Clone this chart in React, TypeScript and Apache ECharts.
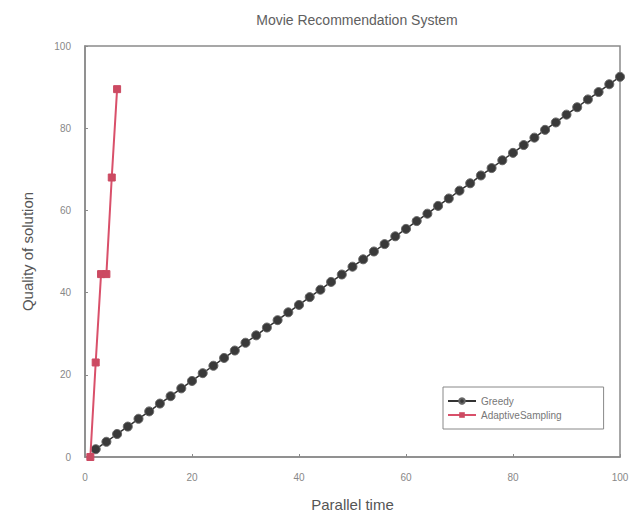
import React, { useEffect, useRef } from "react";
import * as echarts from "echarts";

const chartTitle = "Movie Recommendation System";
const xAxisName = "Parallel time";
const yAxisName = "Quality of solution";
const seriesNames = ["Greedy", "AdaptiveSampling"];

const greedyX = [2, 4, 6, 8, 10, 12, 14, 16, 18, 20, 22, 24, 26, 28, 30, 32, 34, 36, 38, 40, 42, 44, 46, 48, 50, 52, 54, 56, 58, 60, 62, 64, 66, 68, 70, 72, 74, 76, 78, 80, 82, 84, 86, 88, 90, 92, 94, 96, 98, 100];
const greedyY = [1.9, 3.7, 5.6, 7.4, 9.3, 11.1, 13.0, 14.8, 16.7, 18.5, 20.4, 22.2, 24.1, 25.9, 27.8, 29.6, 31.5, 33.3, 35.2, 37.0, 38.9, 40.7, 42.6, 44.4, 46.3, 48.1, 50.0, 51.8, 53.7, 55.5, 57.4, 59.2, 61.1, 62.9, 64.8, 66.6, 68.5, 70.3, 72.2, 74.0, 75.9, 77.7, 79.6, 81.4, 83.3, 85.1, 87.0, 88.8, 90.7, 92.5];

const adaptiveX = [1, 2, 3, 4, 5, 6];
const adaptiveY = [0, 23, 44.5, 44.5, 68, 89.5];

export default function App() {
  const ref = useRef<HTMLDivElement>(null);
  useEffect(() => {
    if (!ref.current) return;
    const chart = echarts.init(ref.current, null, { renderer: "svg" });
    const font = "Liberation Sans, Arial, sans-serif";
    chart.setOption({
      animation: false,
      backgroundColor: "#ffffff",
      textStyle: { fontFamily: font },
      title: {
        text: chartTitle,
        left: 352,
        textAlign: "center",
        top: 8,
        textStyle: { fontSize: 14, fontWeight: "normal", color: "#606060", fontFamily: font },
      },
      grid: {
        left: 85,
        right: 22,
        top: 46,
        bottom: 66,
        show: true,
        borderColor: "#8a8a8a",
        borderWidth: 1.5,
        backgroundColor: "transparent",
      },
      legend: {
        orient: "vertical",
        left: 443,
        top: 387,
        width: 162,
        backgroundColor: "#fff",
        borderColor: "#888",
        borderWidth: 1,
        borderRadius: 0,
        padding: [9, 42, 9, 4],
        itemGap: 4,
        itemWidth: 28,
        itemHeight: 7,
        textStyle: { fontSize: 10, color: "#777", fontFamily: font },
        data: seriesNames,
      },
      xAxis: {
        type: "value",
        min: 0,
        max: 100,
        interval: 20,
        name: xAxisName,
        nameLocation: "middle",
        nameGap: 40,
        nameTextStyle: { fontSize: 15, color: "#555", fontFamily: font },
        axisLine: { show: true, lineStyle: { color: "#8a8a8a", width: 1.5 } },
        axisTick: { show: true, inside: true, length: 3, lineStyle: { color: "#8a8a8a" } },
        axisLabel: { fontSize: 10, color: "#888", margin: 15, fontFamily: font },
        splitLine: { show: false },
      },
      yAxis: {
        type: "value",
        min: 0,
        max: 100,
        interval: 20,
        name: yAxisName,
        nameLocation: "middle",
        nameGap: 50,
        nameTextStyle: { fontSize: 15, color: "#555", fontFamily: font },
        axisLine: { show: true, lineStyle: { color: "#8a8a8a", width: 1.5 } },
        axisTick: { show: true, inside: true, length: 3, lineStyle: { color: "#8a8a8a" } },
        axisLabel: { fontSize: 10, color: "#888", margin: 14, fontFamily: font },
        splitLine: { show: false },
      },
      series: [
        {
          name: seriesNames[0],
          type: "line",
          data: greedyX.map((x, i) => [x, greedyY[i]]),
          symbol: "circle",
          symbolSize: 9,
          itemStyle: { color: "#3a3a3a", borderColor: "#666", borderWidth: 1 },
          lineStyle: { color: "#333", width: 1.5 },
          z: 2,
        },
        {
          name: seriesNames[1],
          type: "line",
          data: adaptiveX.map((x, i) => [x, adaptiveY[i]]),
          symbol: "rect",
          symbolSize: 7,
          itemStyle: { color: "#cc4a62", borderColor: "#cc4a62" },
          lineStyle: { color: "#d9506a", width: 2 },
          z: 3,
        },
      ],
    });
    return () => chart.dispose();
  }, []);
  return (
    <div
      ref={ref}
      style={{ position: "fixed", left: 0, top: 0, width: 642, height: 523 }}
    />
  );
}
